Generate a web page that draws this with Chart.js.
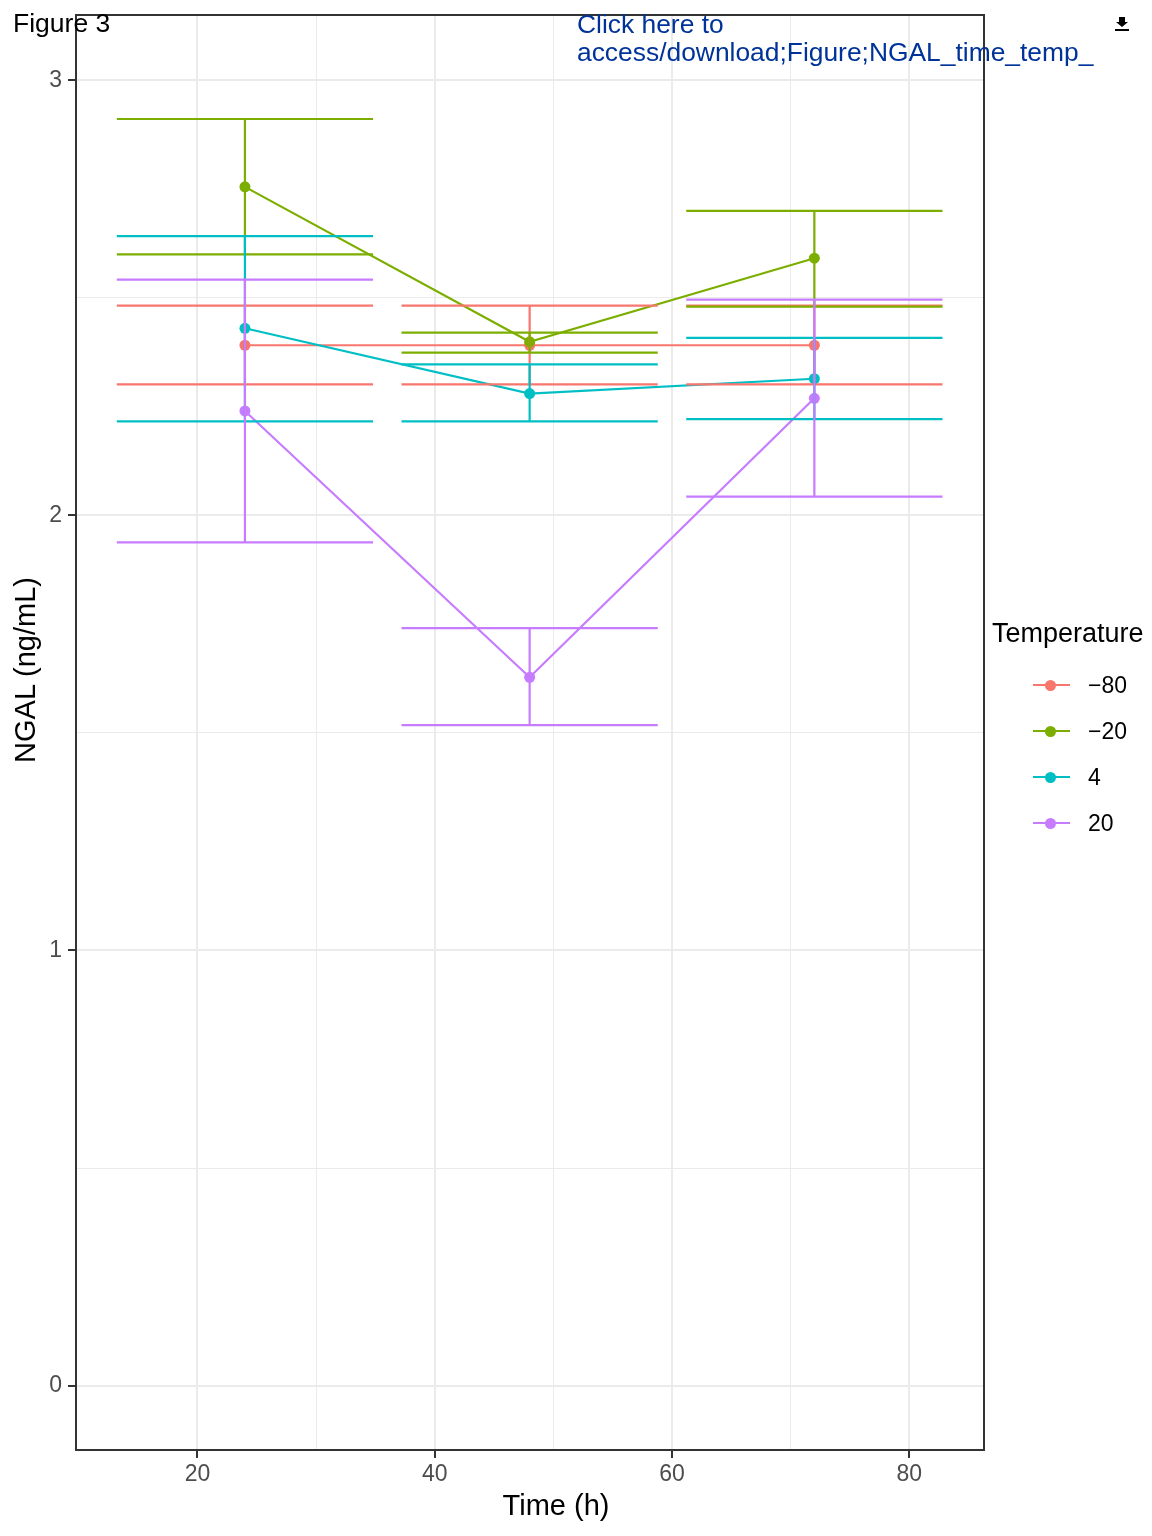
<!DOCTYPE html>
<html>
<head>
<meta charset="utf-8">
<script src="https://cdn.jsdelivr.net/npm/chart.js@4/dist/chart.umd.min.js"></script>
<style>
  body { margin: 0; background: #fff; }
  #wrap { position: relative; width: 1152px; height: 1536px; font-family: "Liberation Sans", Arial, sans-serif; }
  #ngalChart { position: absolute; left: 0; top: 0; }
  .txt { position: absolute; line-height: 1; white-space: nowrap; color: #000; }
  .key { position: absolute; }
  .key .ln { position: absolute; left: 0; width: 37px; height: 2px; top: -1px; }
  .key .dot { position: absolute; left: 12px; width: 11px; height: 11px; top: -5.5px; border-radius: 50%; }
</style>
</head>
<body>
<div id="wrap">
  <canvas id="ngalChart" width="1152" height="1536"></canvas>
  <div class="txt" style="left:13px; top:10px; font-size:26.5px;">Figure 3</div>
  <div class="txt" style="left:577px; top:10px; font-size:26.4px; color:#003399; line-height:28px;">Click here to<br>access/download;Figure;NGAL_time_temp_</div>
  <svg style="position:absolute; left:1114px; top:16px;" width="16" height="16" viewBox="0 0 16 16">
    <path d="M5 1 H11 V6 H14 L8 11 L2 6 H5 Z" fill="#000"/>
    <rect x="1" y="13" width="14" height="2" fill="#000"/>
  </svg>
  <div class="txt" style="left:406px; width:300px; text-align:center; top:1491px; font-size:29px;">Time (h)</div>
  <div class="txt" style="left:-125px; width:300px; text-align:center; top:656px; font-size:29px; line-height:28px; transform:rotate(-90deg);">NGAL (ng/mL)</div>
  <div class="txt" style="left:992px; top:620px; font-size:27px;">Temperature</div>
  <div id="legend"></div>
</div>
<script>
// NGAL by storage temperature over time
const times = [24, 48, 72];
const tempLabels = ["\u221280", "\u221220", "4", "20"];
const tempColors = ["#F8766D", "#7CAE00", "#00BFC4", "#C77CFF"];

const meanM80 = [2.391, 2.391, 2.391];
const lowM80 = [2.301, 2.301, 2.301];
const highM80 = [2.482, 2.482, 2.482];

const meanM20 = [2.755, 2.399, 2.591];
const lowM20 = [2.600, 2.374, 2.480];
const highM20 = [2.911, 2.420, 2.700];

const mean4 = [2.430, 2.280, 2.314];
const low4 = [2.216, 2.216, 2.221];
const high4 = [2.642, 2.347, 2.408];

const mean20 = [2.240, 1.628, 2.269];
const low20 = [1.938, 1.518, 2.043];
const high20 = [2.542, 1.741, 2.496];

const xTicks = [20, 30, 40, 50, 60, 70, 80];
const yTicks = [0, 0.5, 1, 1.5, 2, 2.5, 3];
const errWidth = 21.6; // in hours, ggplot default 0.9 * resolution

const means = [meanM80, meanM20, mean4, mean20];
const lows = [lowM80, lowM20, low4, low20];
const highs = [highM80, highM20, high4, high20];

const datasets = tempLabels.map(function (lab, i) {
  return {
    label: lab,
    data: times.map(function (t, j) { return { x: t, y: means[i][j] }; }),
    showLine: true,
    borderColor: tempColors[i],
    backgroundColor: tempColors[i],
    borderWidth: 2.2,
    pointRadius: 5.5,
    pointBorderWidth: 0,
    order: tempLabels.length - i,
  };
});

const errorBars = {
  id: "errorBars",
  afterDatasetsDraw(chart) {
    const ctx = chart.ctx;
    const xs = chart.scales.x;
    const ys = chart.scales.y;
    ctx.save();
    ctx.lineWidth = 2.2;
    tempLabels.forEach(function (lab, i) {
      ctx.strokeStyle = tempColors[i];
      times.forEach(function (t, j) {
        const x = xs.getPixelForValue(t);
        const x0 = xs.getPixelForValue(t - errWidth / 2);
        const x1 = xs.getPixelForValue(t + errWidth / 2);
        const yl = ys.getPixelForValue(lows[i][j]);
        const yh = ys.getPixelForValue(highs[i][j]);
        ctx.beginPath();
        ctx.moveTo(x, yl); ctx.lineTo(x, yh);
        ctx.moveTo(x0, yl); ctx.lineTo(x1, yl);
        ctx.moveTo(x0, yh); ctx.lineTo(x1, yh);
        ctx.stroke();
      });
    });
    ctx.restore();
  },
};

const panelBorder = {
  id: "panelBorder",
  afterDraw(chart) {
    const a = chart.chartArea;
    const ctx = chart.ctx;
    ctx.save();
    ctx.strokeStyle = "#333333";
    ctx.lineWidth = 2;
    ctx.strokeRect(a.left, a.top, a.right - a.left, a.bottom - a.top);
    ctx.restore();
  },
};

Chart.defaults.font.family = "'Liberation Sans', Arial, sans-serif";

new Chart(document.getElementById("ngalChart"), {
  type: "scatter",
  data: { datasets: datasets },
  plugins: [errorBars, panelBorder],
  options: {
    responsive: false,
    animation: false,
    layout: { padding: { left: 0, right: 168, top: 15, bottom: 0 } },
    plugins: { legend: { display: false }, tooltip: { enabled: false } },
    scales: {
      x: {
        type: "linear",
        min: 9.76,
        max: 86.3,
        afterBuildTicks: function (s) { s.ticks = xTicks.map(function (v) { return { value: v }; }); },
        afterFit: function (s) { s.height = 86; s.paddingLeft = 0; s.paddingRight = 0; },
        border: { display: false },
        grid: {
          color: "#EBEBEB",
          lineWidth: function (c) { return c.tick && c.tick.value % 20 === 0 ? 2 : 1; },
          tickColor: function (c) { return c.tick && c.tick.value % 20 === 0 ? "#333333" : "rgba(0,0,0,0)"; },
          tickWidth: 2,
          tickLength: 8,
        },
        ticks: {
          autoSkip: false,
          maxRotation: 0,
          padding: 3,
          color: "#4D4D4D",
          font: { size: 23 },
          callback: function (v) { return v % 20 === 0 ? String(v) : ""; },
        },
      },
      y: {
        type: "linear",
        min: -0.148,
        max: 3.15,
        afterBuildTicks: function (s) { s.ticks = yTicks.map(function (v) { return { value: v }; }); },
        afterFit: function (s) { s.width = 76; s.paddingTop = 0; s.paddingBottom = 0; },
        border: { display: false },
        grid: {
          color: "#EBEBEB",
          lineWidth: function (c) { return c.tick && Number.isInteger(c.tick.value) ? 2 : 1; },
          tickColor: function (c) { return c.tick && Number.isInteger(c.tick.value) ? "#333333" : "rgba(0,0,0,0)"; },
          tickWidth: 2,
          tickLength: 8,
        },
        ticks: {
          padding: 6,
          color: "#4D4D4D",
          font: { size: 23 },
          callback: function (v) { return Number.isInteger(v) ? String(v) : ""; },
        },
      },
    },
  },
});

// legend keys
const legendEl = document.getElementById("legend");
const legendY = [685, 731, 777, 823];
tempLabels.forEach(function (lab, i) {
  const k = document.createElement("div");
  k.className = "key";
  k.style.left = "1033px";
  k.style.top = legendY[i] + "px";
  k.innerHTML = '<div class="ln" style="background:' + tempColors[i] + '"></div>' +
    '<div class="dot" style="background:' + tempColors[i] + '"></div>';
  legendEl.appendChild(k);
  const t = document.createElement("div");
  t.className = "txt";
  t.style.left = "1088px";
  t.style.top = (legendY[i] - 11) + "px";
  t.style.fontSize = "23px";
  t.textContent = lab;
  legendEl.appendChild(t);
});
</script>
</body>
</html>
